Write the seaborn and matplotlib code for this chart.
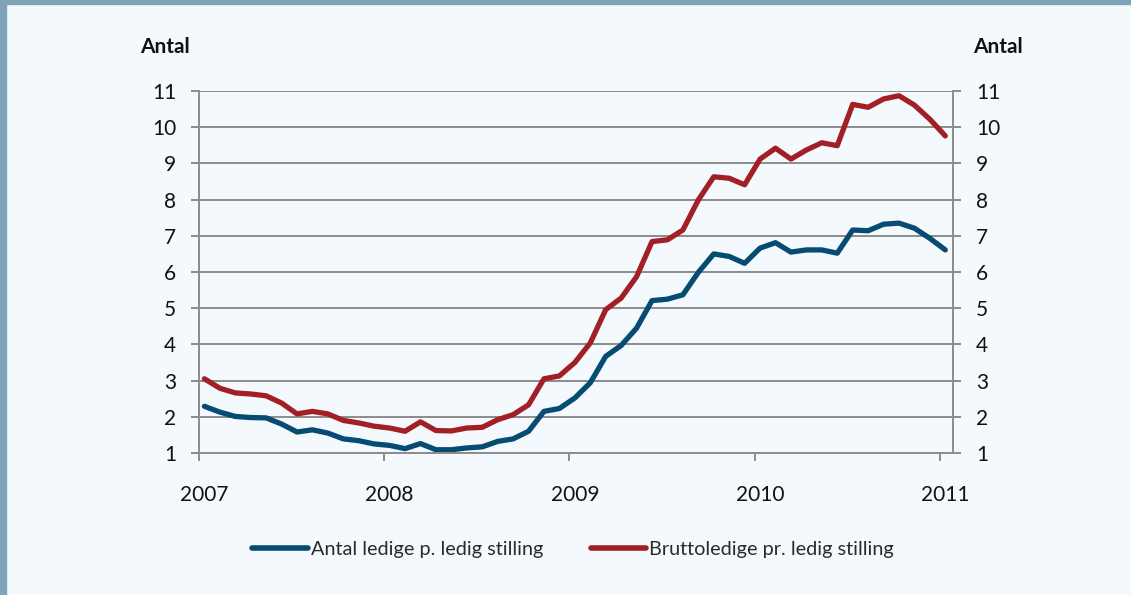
import seaborn as sns
import numpy as np
import pandas as pd
import matplotlib.pyplot as plt
from matplotlib.patches import Rectangle

# monthly series, Jan 2007 - Jan 2011
months = pd.date_range('2007-01-01', '2011-01-01', freq='MS')
antal_ledige = [2.29, 2.13, 2.01, 1.98, 1.97, 1.80, 1.58, 1.64, 1.55, 1.39,
                1.34, 1.25, 1.21, 1.12, 1.26, 1.09, 1.09, 1.14, 1.17, 1.32,
                1.39, 1.60, 2.15, 2.23, 2.52, 2.94, 3.67, 3.97, 4.45, 5.21,
                5.25, 5.37, 5.99, 6.50, 6.43, 6.24, 6.66, 6.81, 6.55, 6.61,
                6.61, 6.52, 7.16, 7.14, 7.32, 7.35, 7.21, 6.93, 6.61]
bruttoledige = [3.05, 2.79, 2.66, 2.63, 2.58, 2.38, 2.08, 2.15, 2.08, 1.90,
                1.83, 1.74, 1.69, 1.60, 1.86, 1.62, 1.61, 1.69, 1.71, 1.92,
                2.06, 2.33, 3.05, 3.13, 3.50, 4.04, 4.96, 5.28, 5.87, 6.84,
                6.89, 7.16, 7.99, 8.63, 8.59, 8.41, 9.12, 9.42, 9.12, 9.37,
                9.57, 9.49, 10.63, 10.55, 10.78, 10.87, 10.61, 10.22, 9.76]
series_names = ['Antal ledige p. ledig stilling', 'Bruttoledige pr. ledig stilling']
year_labels = ['2007', '2008', '2009', '2010', '2011']
y_ticks = list(range(1, 12))

# month index, points sit a third of a month right of the year ticks
mi = np.arange(len(months)) + 0.35
df = pd.DataFrame({
    'x': np.concatenate([mi, mi]),
    'value': antal_ledige + bruttoledige,
    'serie': [series_names[0]] * len(mi) + [series_names[1]] * len(mi),
})

bg = '#F4F9FD'
grid_c = '#8C8C8C'
sns.set_style('white')
plt.rcParams['font.family'] = ['Lato', 'DejaVu Sans']

fig = plt.figure(figsize=(11.31, 5.95), dpi=100, facecolor=bg)
ax = fig.add_axes([199 / 1131, 1 - 453 / 595, (953 - 199) / 1131, (453 - 91) / 595])
ax.set_facecolor(bg)

sns.lineplot(data=df, x='x', y='value', hue='serie', ax=ax,
             palette=['#064B72', '#A11F25'], linewidth=3.8, legend=True)

ax.set_xlim(0, 48.85)
ax.set_ylim(1, 11)
ax.set_yticks(y_ticks)
# tick marks at year start, labels centred on the January points
ax.set_xticks([0, 12, 24, 36, 48])
ax.set_xticklabels([])
ax.set_xticks([0.35, 12.35, 24.35, 36.35, 48.35], minor=True)
ax.set_xticklabels(year_labels, minor=True)
ax.yaxis.grid(True, color=grid_c, linewidth=1.4)
ax.set_axisbelow(True)
ax.spines['top'].set_visible(False)
for s in ['left', 'right', 'bottom']:
    ax.spines[s].set_color(grid_c)
    ax.spines[s].set_linewidth(1.4)
ax.tick_params(axis='y', left=True, right=True, labelleft=True, labelright=True,
               length=5.5, width=1.4, color=grid_c, labelsize=15, pad=11, labelcolor='#111')
ax.tick_params(axis='x', which='major', bottom=True, length=6, width=1.4, color=grid_c)
ax.tick_params(axis='x', which='minor', bottom=True, length=0,
               labelsize=15, pad=23, labelcolor='#111')
ax.set_xlabel('')
ax.set_ylabel('')

fig.text(165 / 1131, 1 - 47 / 595, 'Antal', ha='center', va='center',
         fontsize=15, fontweight='bold', color='#111')
fig.text(998 / 1131, 1 - 47 / 595, 'Antal', ha='center', va='center',
         fontsize=15, fontweight='bold', color='#111')

leg = ax.legend(loc='center', bbox_to_anchor=(573 / 1131, 1 - 549 / 595), bbox_transform=fig.transFigure,
                ncol=2, frameon=False, fontsize=14.3, handlelength=2.8,
                handletextpad=0.15, columnspacing=2.4)
for t in leg.get_texts():
    t.set_color('#2a2a2a')
for h in leg.get_lines():
    h.set_linewidth(4)
    h.set_solid_capstyle('round')

# frame strips at top and left
fig.patches.append(Rectangle((0, 1 - 4 / 595), 1, 4 / 595, transform=fig.transFigure,
                             color='#7FA3B9', zorder=10))
fig.patches.append(Rectangle((0, 0), 6 / 1131, 1, transform=fig.transFigure,
                             color='#7FA3B9', zorder=10))

fig.savefig('out.png', dpi=100, facecolor=bg)
